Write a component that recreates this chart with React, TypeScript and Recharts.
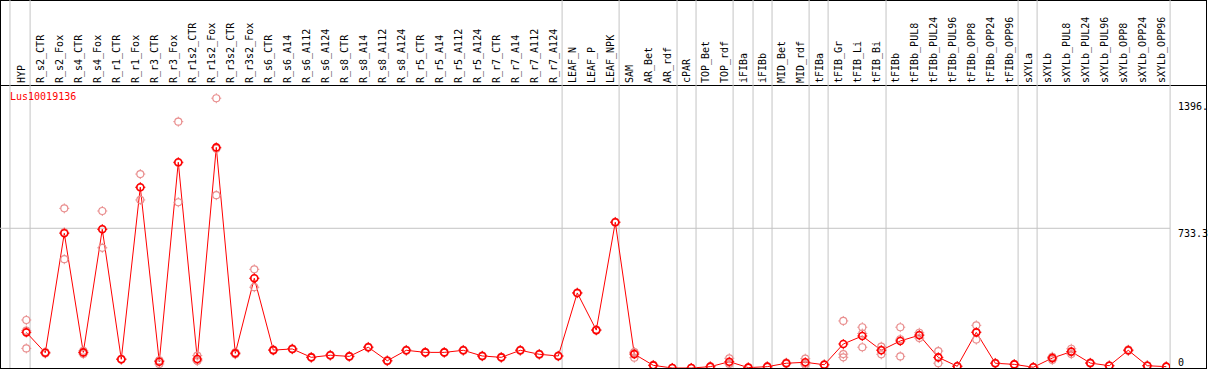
import { LineChart, Line, XAxis, YAxis, ReferenceLine } from "recharts";

const categories = [
  "HYP", "R_s2_CTR", "R_s2_Fox", "R_s4_CTR", "R_s4_Fox", "R_r1_CTR", "R_r1_Fox",
  "R_r3_CTR", "R_r3_Fox", "R_r1s2_CTR", "R_r1s2_Fox", "R_r3s2_CTR", "R_r3s2_Fox",
  "R_s6_CTR", "R_s6_A14", "R_s6_A112", "R_s6_A124", "R_s8_CTR", "R_s8_A14",
  "R_s8_A112", "R_s8_A124", "R_r5_CTR", "R_r5_A14", "R_r5_A112", "R_r5_A124",
  "R_r7_CTR", "R_r7_A14", "R_r7_A112", "R_r7_A124", "LEAF_N", "LEAF_P", "LEAF_NPK",
  "SAM", "AR_Bet", "AR_rdf", "cPAR", "TOP_Bet", "TOP_rdf", "iFIBa", "iFIBb",
  "MID_Bet", "MID_rdf", "tFIBa", "tFIB_Gr", "tFIB_Li", "tFIB_Bi", "tFIBb",
  "tFIBb_PUL8", "tFIBb_PUL24", "tFIBb_PUL96", "tFIBb_OPP8", "tFIBb_OPP24",
  "tFIBb_OPP96", "sXYLa", "sXYLb", "sXYLb_PUL8", "sXYLb_PUL24", "sXYLb_PUL96",
  "sXYLb_OPP8", "sXYLb_OPP24", "sXYLb_OPP96",
];

const meanValues = [
  187, 80, 707, 82, 728, 46, 949, 33, 1080, 47, 1158, 77, 471,
  94, 100, 56, 67, 61, 109, 38, 93, 82, 82, 93, 63, 56, 93, 72, 63,
  394, 199, 765, 73, 14, 0, 0, 7, 33, 2, 7, 25, 30, 17, 126, 168, 93,
  142, 172, 56, 9, 187, 25, 19, 4, 52, 86, 26, 12, 93, 12, 7,
];

// three replicates per sample
const rep1 = [
  252, 84, 838, 90, 824, 48, 1018, 40, 1293, 65, 1416, 82, 518,
  96, 102, 58, 69, 63, 111, 40, 95, 84, 84, 95, 65, 58, 95, 74, 65,
  396, 201, 767, 84, 16, 1, 1, 9, 51, 3, 9, 28, 49, 19, 247, 214, 112,
  214, 185, 89, 10, 224, 27, 21, 5, 59, 101, 28, 13, 96, 13, 8,
];
const rep2 = [
  103, 76, 571, 74, 631, 44, 882, 21, 870, 38, 907, 72, 424,
  92, 98, 54, 65, 59, 107, 36, 91, 80, 80, 91, 61, 54, 91, 70, 61,
  392, 197, 763, 54, 12, 0, 0, 5, 21, 1, 5, 22, 17, 15, 56, 109, 72,
  61, 157, 25, 8, 149, 23, 17, 3, 42, 73, 24, 11, 90, 11, 6,
];
const rep3 = [
  196, 80, 712, 82, 729, 46, 947, 38, 1077, 38, 1151, 77, 471,
  94, 100, 56, 67, 61, 109, 38, 93, 82, 82, 93, 63, 56, 93, 72, 63,
  394, 199, 765, 81, 14, 0, 0, 7, 27, 2, 7, 25, 24, 17, 73, 181, 95,
  151, 174, 54, 9, 189, 25, 19, 4, 55, 84, 26, 12, 93, 12, 7,
];

const yTicks = [0, 733.3, 1396];
const yTickLabels = ["0", "733.3", "1396."];

// separators between sample groups, in category units
const groupEdges = [-0.86, 0.2, 28.2, 31.2, 34.25, 35.25, 37.2, 38.25, 39.25, 41.2, 42.2, 45.25, 52.2, 53.2, 60.2];

const data = categories.map((name, i) => ({
  idx: i,
  name,
  mean: meanValues[i],
  r1: rep1[i],
  r2: rep2[i],
  r3: rep3[i],
}));

const FONT = '"DejaVu Sans Mono", monospace';
const RED = "#ff0000";
const PINK = "#e98f8f";
const GRID = "#c4c4c4";

function Ring({ cx, cy, color, width }: any) {
  if (cx == null || cy == null) return null;
  const r = 3.5;
  const t = 1.5;
  return (
    <g>
      <circle cx={cx} cy={cy} r={r} fill="none" stroke={color} strokeWidth={width} />
      <path
        d={`M${cx} ${cy - r - t}V${cy - r} M${cx} ${cy + r}V${cy + r + t} M${cx - r - t} ${cy}H${cx - r} M${cx + r} ${cy}H${cx + r + t}`}
        stroke={color}
        strokeWidth={1}
      />
    </g>
  );
}

function CategoryTick({ x, payload }: any) {
  const tx = x - 1;
  return (
    <text
      x={tx}
      y={83}
      transform={`rotate(-90 ${tx} 83)`}
      fontFamily={FONT}
      fontSize={10}
      fill="#000"
      textAnchor="start"
    >
      {categories[payload.value]}
    </text>
  );
}

function ValueTick({ y, payload }: any) {
  const i = yTicks.indexOf(payload.value);
  const dy = payload.value === 0 ? -2.4 : 8.3;
  return (
    <text x={1178} y={y + dy} fontFamily={FONT} fontSize={10} fill="#000" textAnchor="start">
      {yTickLabels[i]}
    </text>
  );
}

const repDot = (key: string) => (p: any) => (
  <Ring key={`${key}-${p.index}`} cx={p.cx} cy={p.cy} color={PINK} width={1.2} />
);

export default function App() {
  return (
    <div style={{ position: "absolute", left: 0, top: 0, width: 1209, height: 370, background: "#fff" }}>
      <div
        style={{
          position: "absolute",
          left: 0,
          top: 0,
          width: 1207,
          height: 369,
          border: "1px solid #000",
          boxSizing: "border-box",
        }}
      />
      <div style={{ position: "absolute", left: 0, top: 85, width: 1207, height: 1, background: "#000" }} />
      <LineChart
        width={1209}
        height={370}
        data={data}
        margin={{ top: 0, right: 0, bottom: 2, left: 0 }}
        style={{ position: "absolute", left: 0, top: 0 }}
      >
        <XAxis
          dataKey="idx"
          type="number"
          domain={[-1.384, 60.195]}
          allowDataOverflow
          ticks={categories.map((_, i) => i)}
          interval={0}
          orientation="top"
          mirror
          axisLine={false}
          tickLine={false}
          tick={(p: any) => <CategoryTick key={`c-${p.index}`} {...p} />}
        />
        <YAxis
          orientation="right"
          width={39}
          domain={[0, 1931.6]}
          allowDataOverflow
          ticks={yTicks}
          interval={0}
          axisLine={false}
          tickLine={false}
          tick={(p: any) => <ValueTick {...p} />}
        />
        {groupEdges.map((e) => (
          <ReferenceLine key={e} x={e} stroke={GRID} strokeWidth={1} ifOverflow="visible" />
        ))}
        <ReferenceLine y={733.3} stroke={GRID} strokeWidth={1} />
        <Line dataKey="r1" stroke="none" isAnimationActive={false} activeDot={false} dot={repDot("r1")} />
        <Line dataKey="r2" stroke="none" isAnimationActive={false} activeDot={false} dot={repDot("r2")} />
        <Line dataKey="r3" stroke="none" isAnimationActive={false} activeDot={false} dot={repDot("r3")} />
        <Line
          type="linear"
          dataKey="mean"
          stroke={RED}
          strokeWidth={1}
          isAnimationActive={false}
          activeDot={false}
          dot={(p: any) => <Ring key={`m-${p.index}`} cx={p.cx} cy={p.cy} color={RED} width={1.6} />}
        />
      </LineChart>
      <div
        style={{
          position: "absolute",
          left: 10,
          top: 92,
          fontFamily: FONT,
          fontSize: 10,
          lineHeight: "10px",
          color: RED,
          whiteSpace: "nowrap",
        }}
      >
        Lus10019136
      </div>
    </div>
  );
}
